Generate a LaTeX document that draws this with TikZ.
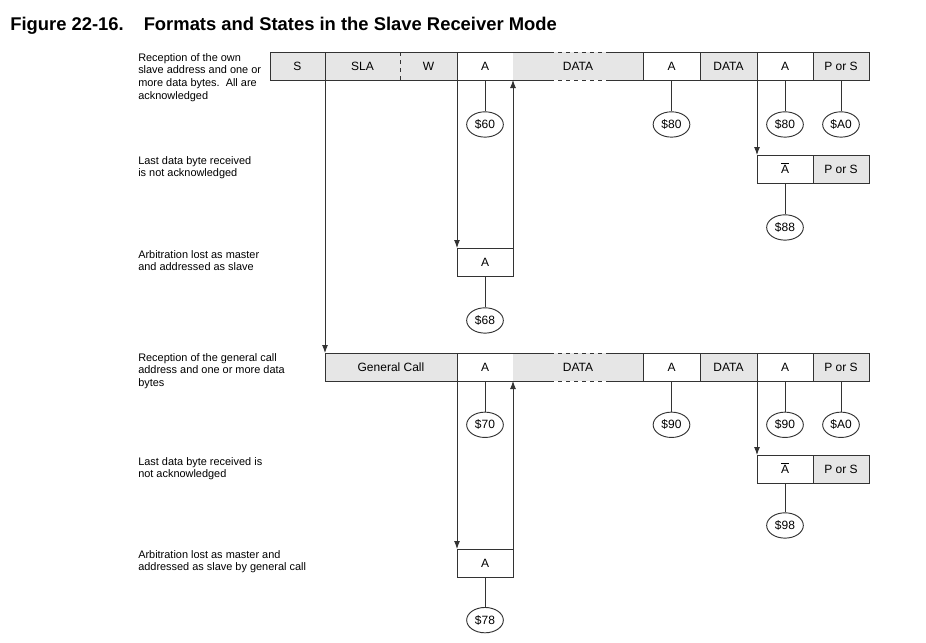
\documentclass[tikz,border=0pt]{standalone}
\usepackage{amsmath}
\usepackage{fontspec}
\setmainfont{Liberation Sans}
\usetikzlibrary{positioning}
\usetikzlibrary{shapes.geometric}
\usetikzlibrary{arrows.meta}
\definecolor{fieldgray}{HTML}{E6E6E6}
\definecolor{linegray}{HTML}{333333}

\begin{document}
\begin{tikzpicture}[
                x=0.75pt, y=-0.75pt,
                field/.style = {
                    draw = linegray,
                    line width = 0.7pt,
                    minimum width = 0.75pt*#1,
                    minimum height = 21pt,
                    text height = 6.4pt,
                    text depth = 0pt,
                    inner sep = 0pt,
                    outer sep = 0pt,
                    font = \fontsize{9}{10}\selectfont
                },
                field/.default = 56,
                grayfield/.style = {field=#1, fill=fieldgray},
                grayfield/.default = 56,
                bare/.style = {grayfield=#1, draw=none},
                statecode/.style = {
                    draw = linegray,
                    ellipse,
                    line width = 0.7pt,
                    minimum width = 27.5pt,
                    minimum height = 19pt,
                    inner sep = 0pt,
                    font = \fontsize{9}{10}\selectfont
                },
                note/.style = {anchor=north west, align=left, inner sep=0pt, font=\fontsize{8.2}{9.5}\selectfont},
                link/.style = {draw=linegray, line width=0.7pt},
                flow/.style = {link, -{Latex[length=6pt,width=4.5pt]}},
                node distance = 0pt
            ]
            \useasboundingbox (0,0) rectangle (926,643);
            \node[anchor=base west, inner sep=0pt, font=\bfseries\fontsize{13.8}{16}\selectfont] (title) at (10,30)
                {Figure 22-16.\hspace{15pt}Formats and States in the Slave Receiver Mode};
            %
            \node[note] (t1) at (138,53) {Reception of the own\\slave address and one or\\more data bytes.\ \ All are\\acknowledged};
            \node[note] (t2) at (138,156) {Last data byte received\\is not acknowledged};
            \node[note] (t3) at (138,250) {Arbitration lost as master\\and addressed as slave};
            \node[note] (t4) at (138,353) {Reception of the general call\\address and one or more data\\bytes};
            \node[note] (t5) at (138,457) {Last data byte received is\\not acknowledged};
            \node[note] (t6) at (138,550) {Arbitration lost as master and\\addressed as slave by general call};
            %
            % own slave address
            \node[grayfield=55, anchor=north west] (s) at (270,52) {S};
            \node[bare=75, right=of s] (sla) {SLA};
            \node[bare=57, right=of sla] (w) {W};
            \node[field=56, right=of w] (a1) {A};
            \node[bare=130, right=of a1] (d1) {DATA};
            \node[field=57, right=of d1] (a2) {A};
            \node[grayfield=57, right=of a2] (d2) {DATA};
            \node[field=56, right=of d2] (a3) {A};
            \node[grayfield=56, right=of a3] (p1) {P or S};
            \draw[link] (sla.north west) rectangle (w.south east);
            \draw[link, dashed] (sla.north east) -- (sla.south east);
            \draw[link] (d1.north west) -- ++(37,0) (d1.north east) -- ++(-36,0) (d1.south west) -- ++(37,0) (d1.south east) -- ++(-36,0);
            \draw[link, dashed] ([xshift=27.75pt]d1.north west) -- ([xshift=-27pt]d1.north east) ([xshift=27.75pt]d1.south west) -- ([xshift=-27pt]d1.south east);
            %
            \node[field=56, anchor=north west] (n1) at (757,155) {$\overline{\text{A}}$};
            \node[grayfield=56, right=of n1] (p2) {P or S};
            \node[field=56, anchor=north west] (r1) at (457,248) {A};
            %
            \node[statecode, below=23.5pt of a1] (q60) {\$60};
            \node[statecode, below=23.5pt of a2] (q80) {\$80};
            \node[statecode, below=23.5pt of a3] (q80b) {\$80};
            \node[statecode, below=23.5pt of p1] (qa0) {\$A0};
            \node[statecode, below=23.5pt of n1] (q88) {\$88};
            \node[statecode, below=23.5pt of r1] (q68) {\$68};
            %
            % general call
            \node[grayfield=132, anchor=north west] (gc) at (325,353) {General Call};
            \node[field=56, right=of gc] (a4) {A};
            \node[bare=130, right=of a4] (d3) {DATA};
            \node[field=57, right=of d3] (a5) {A};
            \node[grayfield=57, right=of a5] (d4) {DATA};
            \node[field=56, right=of d4] (a6) {A};
            \node[grayfield=56, right=of a6] (p3) {P or S};
            \draw[link] (d3.north west) -- ++(37,0) (d3.north east) -- ++(-36,0) (d3.south west) -- ++(37,0) (d3.south east) -- ++(-36,0);
            \draw[link, dashed] ([xshift=27.75pt]d3.north west) -- ([xshift=-27pt]d3.north east) ([xshift=27.75pt]d3.south west) -- ([xshift=-27pt]d3.south east);
            %
            \node[field=56, anchor=north west] (n2) at (757,455) {$\overline{\text{A}}$};
            \node[grayfield=56, right=of n2] (p4) {P or S};
            \node[field=56, anchor=north west] (r2) at (457,549) {A};
            %
            \node[statecode, below=23pt of a4] (q70) {\$70};
            \node[statecode, below=23pt of a5] (q90) {\$90};
            \node[statecode, below=23pt of a6] (q90b) {\$90};
            \node[statecode, below=23pt of p3] (qa0b) {\$A0};
            \node[statecode, below=22pt of n2] (q98) {\$98};
            \node[statecode, below=22.5pt of r2] (q78) {\$78};
            %
            \draw[link] (a1) -- (q60);
            \draw[link] (a2) -- (q80);
            \draw[link] (a3) -- (q80b);
            \draw[link] (p1) -- (qa0);
            \draw[link] (n1) -- (q88);
            \draw[link] (r1) -- (q68);
            \draw[link] (a4) -- (q70);
            \draw[link] (a5) -- (q90);
            \draw[link] (a6) -- (q90b);
            \draw[link] (p3) -- (qa0b);
            \draw[link] (n2) -- (q98);
            \draw[link] (r2) -- (q78);
            %
            \draw[flow] (s.south east) -- (gc.north west);
            \draw[flow] (a1.south west) -- (r1.north west);
            \draw[flow] (r1.north east) -- (a1.south east);
            \draw[flow] (a3.south west) -- (n1.north west);
            \draw[flow] (a4.south west) -- (r2.north west);
            \draw[flow] (r2.north east) -- (a4.south east);
            \draw[flow] (a6.south west) -- (n2.north west);
            %
        \end{tikzpicture}
\end{document}
